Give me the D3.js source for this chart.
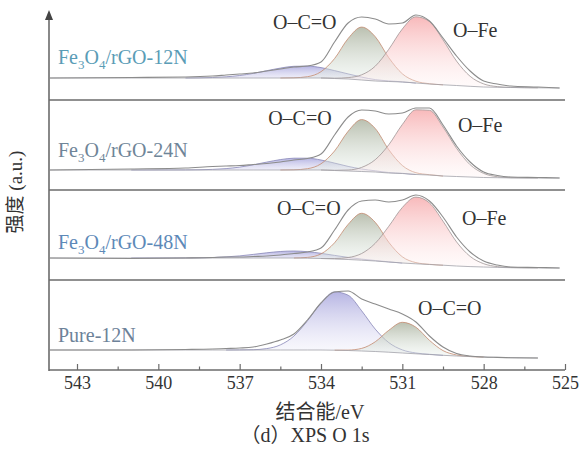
<!DOCTYPE html>
<html>
<head>
<meta charset="utf-8">
<script src="https://cdn.jsdelivr.net/npm/d3@7"></script>
<style>
  body { margin: 0; background: #fff; }
  svg text { font-family: "Liberation Serif", "Noto Sans CJK SC", serif; }
</style>
</head>
<body>
<svg id="chart" width="583" height="455"></svg>
<script>
// binding energy grid (eV), shared by every curve
const energy = [544, 541, 539, 538, 537.5, 537, 536.5, 536, 535.5, 535, 534.5, 534, 533.5, 533,
                532.5, 532, 531.5, 531, 530.5, 530, 529.5, 529, 528.5, 528, 527.5, 527, 526, 525.2];

const majorTicks = [543, 540, 537, 534, 531, 528, 525];
const minorTicks = [541.5, 538.5, 535.5, 532.5, 529.5, 526.5];

const sampleNames = ["Fe3O4/rGO-12N", "Fe3O4/rGO-24N", "Fe3O4/rGO-48N", "Pure-12N"];

// intensities (a.u.)
const bg1    = [10, 10, 10, 10, 10, 10, 10, 10, 10, 10, 10, 10, 9.5, 9, 8, 7, 6.5, 6, 5, 4, 3.2, 2.5, 1.7, 1, 0.7, 0.5, 0.2, 0];
const blue1  = [0, 0, 0, 0.5, 1.2, 2.5, 4.6, 7.3, 9.9, 11.7, 11.9, 10.4, 7.9, 5.1, 2.9, 1.4, 0.6, 0.2, 0, 0, 0, 0, 0, 0, 0, 0, 0, 0];
const green1 = [0, 0, 0, 0, 0, 0, 0, 0, 0, 0.2, 1.3, 6.3, 19.9, 40.5, 52.9, 44.3, 23.8, 8.2, 1.8, 0.3, 0, 0, 0, 0, 0, 0, 0, 0];
const red1   = [0, 0, 0, 0, 0, 0, 0, 0, 0, 0, 0, 0, 0.3, 1.4, 5.2, 14.8, 32.2, 53, 66.2, 62.6, 44.9, 24.4, 10, 3.1, 0.7, 0.1, 0, 0];
const raw1   = [10, 10.5, 11, 12, 13, 14, 15, 17, 19, 21, 22, 26, 46, 65, 71, 69, 64, 65, 73, 67, 50, 32, 17, 7, 4, 2, 1, 0];

const bg2    = [8, 8, 8, 8, 8, 8, 8, 8, 8, 8, 8, 8, 7.5, 7, 6.5, 6, 5, 4.5, 3.5, 3, 2, 1.5, 1, 0.5, 0.3, 0.1, 0, 0];
const blue2  = [0, 0, 0.1, 0.6, 1.4, 2.9, 5.2, 7.9, 10.4, 11.8, 11.8, 10, 7.4, 4.6, 2.5, 1.2, 0.5, 0.2, 0, 0, 0, 0, 0, 0, 0, 0, 0, 0];
const green2 = [0, 0, 0, 0, 0, 0, 0, 0, 0, 0.2, 1.3, 6.2, 19.5, 39.7, 51.9, 43.5, 23.3, 8, 1.8, 0.3, 0, 0, 0, 0, 0, 0, 0, 0];
const red2   = [0, 0, 0, 0, 0, 0, 0, 0, 0, 0, 0, 0, 0.2, 1, 4.1, 12.3, 28.2, 49, 64.7, 64.7, 49, 28.2, 12.3, 4.1, 1, 0.2, 0, 0];
const raw2   = [8, 9, 10, 11.5, 12, 12.5, 13.5, 14.5, 16, 18, 19.5, 24, 43, 61, 68, 67, 64, 65, 70, 70, 53, 32, 16, 6, 2.5, 1, 0.5, 0];

const bg3    = [10, 10, 10, 10, 10, 10, 10, 10, 10, 10, 9.8, 9.5, 9, 8.5, 7.8, 7, 6, 5, 4.2, 3.5, 2.8, 2, 1.4, 1, 0.6, 0.3, 0.1, 0];
const blue3  = [0, 0, 0.1, 0.5, 1.1, 2.1, 3.6, 5.2, 6.5, 7, 6.5, 5.2, 3.6, 2.1, 1.1, 0.5, 0.2, 0, 0, 0, 0, 0, 0, 0, 0, 0, 0, 0];
const green3 = [0, 0, 0, 0, 0, 0, 0, 0, 0, 0, 0.8, 4.6, 16.2, 35.1, 46.9, 38.7, 19.7, 6.2, 1.2, 0.2, 0, 0, 0, 0, 0, 0, 0, 0];
const red3   = [0, 0, 0, 0, 0, 0, 0, 0, 0, 0, 0, 0, 0.5, 2, 6.7, 17.7, 35.7, 55.5, 66.7, 61.6, 44, 24.1, 10.2, 3.3, 0.8, 0.2, 0, 0];
const raw3   = [10, 9.5, 10, 10.5, 11, 11, 11.5, 12, 13, 14.5, 16, 20, 38, 58, 67, 68, 66, 68, 73, 67, 51, 31, 16, 7, 3, 1, 0.5, 0];

const bg4    = [8, 8, 8, 8, 8, 8, 8, 8, 8, 8, 8, 8, 7.8, 7.5, 7, 6.5, 5.8, 5, 4.2, 3.5, 2.7, 2, 1.4, 1, 0.6, 0.3, 0, null];
const blue4  = [0, 0, 0, 0, 0, 0.1, 0.3, 1.4, 5.1, 13.9, 29.2, 47.1, 58.3, 55.3, 40.2, 22.4, 9.6, 3.1, 0.8, 0.2, 0, 0, 0, 0, 0, 0, 0, null];
const green4 = [0, 0, 0, 0, 0, 0, 0, 0, 0, 0, 0, 0, 0, 0.4, 2.6, 9.7, 21.9, 30.7, 26.6, 14.2, 4.7, 1, 0.1, 0, 0, 0, 0, null];
const raw4   = [8, 8, 8.5, 9, 9.5, 10, 11, 14, 18, 24, 38, 55, 66, 67, 59, 54, 49, 44, 36, 22, 11, 4.5, 2, 1, 0.6, 0.3, 0, null];

const panels = [
  { name: sampleNames[0], bg: bg1, raw: raw1, comps: [["blue", blue1], ["green", green1], ["red", red1]],
    color: "#5a9cb6", labels: [["O–C=O", 535.77, 66], ["O–Fe", 529.13, 58]], nameY: 31 },
  { name: sampleNames[1], bg: bg2, raw: raw2, comps: [["blue", blue2], ["green", green2], ["red", red2]],
    color: "#6f8598", labels: [["O–C=O", 535.95, 60], ["O–Fe", 528.95, 53]], nameY: 28 },
  { name: sampleNames[2], bg: bg3, raw: raw3, comps: [["blue", blue3], ["green", green3], ["red", red3]],
    color: "#5d89b8", labels: [["O–C=O", 535.62, 60], ["O–Fe", 528.8, 50]], nameY: 26 },
  { name: sampleNames[3], bg: bg4, raw: raw4, comps: [["blue", blue4], ["green", green4]],
    color: "#6d8299", labels: [["O–C=O", 530.42, 50]], nameY: 23 }
];

const fills = {
  blue:  { top: "#a4a2dc", bottom: "#f0effa", stroke: "#8886b8" },
  green: { top: "#a9b09c", bottom: "#e6f0ea", stroke: "#c48a70" },
  red:   { top: "#f6a8aa", bottom: "#fff2f2", stroke: "#a09696" }
};

const svg = d3.select("#chart");
const axisColor = "#6b6b6b";

const x = d3.scaleLinear().domain([543, 525]).range([77, 565]);
const left = 49, right = 565, axisY = 370;

// gradients
const defs = svg.append("defs");
Object.entries(fills).forEach(([k, c]) => {
  const g = defs.append("linearGradient").attr("id", "grad-" + k)
    .attr("x1", 0).attr("y1", 0).attr("x2", 0).attr("y2", 1);
  g.append("stop").attr("offset", "0%").attr("stop-color", c.top).attr("stop-opacity", 0.8);
  g.append("stop").attr("offset", "100%").attr("stop-color", c.bottom).attr("stop-opacity", 0.3);
});

panels.forEach((p, i) => {
  const base = 88 + 90 * i;
  const y = d3.scaleLinear().domain([0, 80]).range([base, base - 80]);
  const g = svg.append("g");

  p.comps.forEach(([key, vals]) => {
    const pts = energy.map((e, j) => ({ e, b: p.bg[j], v: vals[j],
      keep: vals[j] > 0 || vals[j - 1] > 0 || vals[j + 1] > 0 }))
      .filter(d => d.keep && d.v != null);
    const area = d3.area().curve(d3.curveMonotoneX)
      .x(d => x(d.e)).y0(d => y(d.b)).y1(d => y(d.b + d.v));
    g.append("path").attr("d", area(pts))
      .attr("fill", `url(#grad-${key})`).attr("stroke", "none");
    const line = d3.line().curve(d3.curveMonotoneX).x(d => x(d.e)).y(d => y(d.b + d.v));
    g.append("path").attr("d", line(pts))
      .attr("fill", "none").attr("stroke", fills[key].stroke).attr("stroke-width", 0.8);
  });

  const bgLine = d3.line().defined(d => d[1] != null).curve(d3.curveMonotoneX)
    .x(d => x(d[0])).y(d => y(d[1]));
  g.append("path").attr("d", bgLine(energy.map((e, j) => [e, p.bg[j]])))
    .attr("fill", "none").attr("stroke", "#a2a2aa").attr("stroke-width", 0.8);

  g.append("path").attr("d", bgLine(energy.map((e, j) => [e, p.raw[j]])))
    .attr("fill", "none").attr("stroke", "#8c8c8c").attr("stroke-width", 1.1);

  // sample name with subscripts
  const t = g.append("text").attr("x", 58).attr("y", y(p.nameY)).attr("dy", "0.35em")
    .attr("fill", p.color).style("font-size", "20px");
  const m = p.name.match(/^Fe3O4(.*)$/);
  if (m) {
    t.append("tspan").text("Fe");
    t.append("tspan").text("3").attr("dy", 5).style("font-size", "13px");
    t.append("tspan").text("O").attr("dy", -5);
    t.append("tspan").text("4").attr("dy", 5).style("font-size", "13px");
    t.append("tspan").text(m[1]).attr("dy", -5);
  } else {
    t.text(p.name);
  }

  p.labels.forEach(([txt, e, h]) => {
    g.append("text").attr("x", x(e)).attr("y", y(h)).attr("dy", "0.35em")
      .attr("fill", "#333").style("font-size", "20px").text(txt);
  });

  if (i > 0) {
    svg.append("line").attr("x1", left).attr("x2", right)
      .attr("y1", base - 78).attr("y2", base - 78)
      .attr("stroke", axisColor).attr("stroke-width", 1.6);
  }
});

// x axis
svg.append("line").attr("x1", left).attr("x2", right).attr("y1", axisY).attr("y2", axisY)
  .attr("stroke", axisColor).attr("stroke-width", 1.6);
const ax = svg.append("g").attr("transform", `translate(0,${axisY})`)
  .call(d3.axisBottom(x).tickValues(majorTicks).tickSize(-6).tickSizeOuter(0).tickPadding(6));
ax.select(".domain").remove();
ax.selectAll(".tick line").attr("stroke", axisColor).attr("stroke-width", 1.2);
ax.selectAll(".tick text").attr("fill", "#333").style("font-size", "18px")
  .style("font-family", "'Liberation Serif', serif");
const axm = svg.append("g").attr("transform", `translate(0,${axisY})`)
  .call(d3.axisBottom(x).tickValues(minorTicks).tickSize(-3.5).tickFormat(""));
axm.select(".domain").remove();
axm.selectAll(".tick line").attr("stroke", axisColor).attr("stroke-width", 1.2);

// y axis with arrow
svg.append("line").attr("x1", left).attr("x2", left).attr("y1", axisY + 1).attr("y2", 18)
  .attr("stroke", axisColor).attr("stroke-width", 1.6);
svg.append("path").attr("d", `M${left - 4},20 L${left},10 L${left + 4},20 Z`).attr("fill", "#444");

svg.append("text").attr("transform", "translate(15,192) rotate(-90)")
  .attr("text-anchor", "middle").attr("dy", "0.35em").attr("fill", "#333")
  .style("font-size", "19px").text("强度 (a.u.)");

svg.append("text").attr("x", 320).attr("y", 412).attr("text-anchor", "middle").attr("dy", "0.35em")
  .attr("fill", "#333").style("font-size", "20px").text("结合能/eV");
svg.append("text").attr("x", 305).attr("y", 435).attr("text-anchor", "middle").attr("dy", "0.35em")
  .attr("fill", "#333").style("font-size", "20px").text("（d）XPS O 1s");
</script>
</body>
</html>
